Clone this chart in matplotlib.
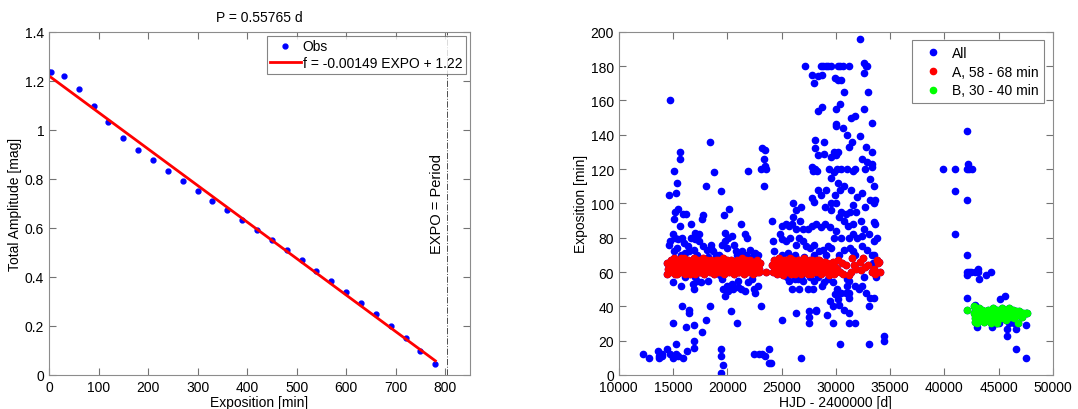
import matplotlib
matplotlib.use("Agg")
import matplotlib.pyplot as plt

plt.rcParams["font.family"] = ["Liberation Sans", "DejaVu Sans"]
plt.rcParams["font.size"] = 10

# left panel: amplitude vs exposure time
expo = [0, 4, 30, 60, 90, 120, 150, 180, 210, 240, 270, 300, 330, 360, 390,
        420, 450, 480, 510, 540, 570, 600, 630, 660, 690, 720, 750, 780]
amp = [1.238, 1.238, 1.218, 1.166, 1.099, 1.032, 0.968, 0.919, 0.876, 0.833,
       0.790, 0.750, 0.710, 0.671, 0.633, 0.591, 0.551, 0.508, 0.468, 0.424,
       0.382, 0.338, 0.293, 0.247, 0.199, 0.150, 0.099, 0.044]
slope, icpt = -0.00149, 1.22
period_d = 0.55765

# right panel: exposure time vs HJD, points outside groups A and B
other_hjd = [12200, 12800, 13600, 13700, 13700, 14000, 14000, 14400, 14700, 15000,
             15300, 15300, 15500, 15900, 16300, 15000, 15800, 16200, 16500, 16500,
             16900, 16900, 16900, 17700, 18000, 18400, 19400, 19400, 19400, 19600,
             20300, 20900, 22500, 22900, 23200, 23500, 23800, 23800, 24000, 23100,
             14700, 14600, 15100, 15400, 15300, 15600, 15600, 15100, 15200, 15500,
             15600, 15900, 16200, 16700, 17000, 17400, 17700, 17800, 18000, 18400,
             18800, 18500, 19400, 19700, 20200, 19800, 21300, 21900, 21800, 21600,
             22800, 23200, 23500, 23400, 23100, 23500, 23600, 23400,
             14700, 14600, 15000, 15200, 15500, 15800, 16000, 16400, 16700, 17000,
             17400, 17800, 18100, 18500, 18700, 19200, 19500, 19800, 20100, 20400,
             20600, 20800, 21400, 21700, 22100, 22600, 15100, 15400, 16100, 16900,
             17200, 15700, 16500, 18200, 19000, 20000, 20900, 22300,
             15000, 15700, 16100, 16800, 16900, 17200, 17600, 18200, 19500, 19600,
             19800, 20000, 20100, 20400, 20500, 21000, 21300, 21600, 21900, 22300,
             22500, 22600, 22800, 17000, 19300, 21000,
             24100, 25000, 26300, 26800, 27500, 27500, 27500, 28200, 28200, 29200,
             29700, 30400, 30300, 30800, 31200, 31200, 31800, 33100, 33100, 33200,
             33500, 34400, 34400, 29700, 30200, 29500, 31200, 31200, 27900, 26600,
             27400, 26000, 29900, 31000,
             27200, 27800, 28000, 28400, 28700, 28600, 28800, 29100, 29300, 29600,
             29900, 30200, 30200, 30400, 30700, 31200, 30500, 30800, 32200, 32600,
             32800, 32900, 32600, 33000, 28400, 28700, 30000, 30400, 31400, 31800,
             32200, 32600, 33300, 30000, 30000, 30700, 31000, 31200, 31500, 28100,
             28900, 28100, 32800, 33300, 32400, 32700, 32900, 33300, 33300, 29800,
             30200, 30000, 28400, 28900, 29600, 27800, 27900, 28100, 28300, 29400,
             29800, 30100, 30500, 31000, 31600, 31800, 29600, 30200, 30400, 29900,
             30800, 31400, 32000, 32400, 33200, 33500, 33200, 33600, 33500, 32700,
             31600, 31900, 30500, 30900, 31300, 29000, 29600, 30000, 27800, 28000,
             28400, 28600, 29100, 29600, 30300, 26100, 26300, 26800, 26100, 26700,
             25700, 25000, 25400, 26000, 26300, 27000, 27400, 27800, 28200, 28600,
             29000, 29500, 30000, 29800, 30500, 31200, 31600, 32000, 32400, 33100,
             33500, 33600, 33800, 33500, 32600, 32300, 31600, 31100, 30800, 24900,
             25000, 25400, 25800, 26300, 26600, 27000, 27300, 27600, 28000, 28500,
             28800, 29300, 29600, 30300, 30800, 31300, 31600, 32400, 32900, 33300,
             33500, 24200, 24300, 25000, 25600, 26200, 27100, 28000, 29100, 31800,
             33400,
             25500, 25700, 26200, 26500, 27000, 27600, 28000, 28400, 28900, 29300,
             29700, 30100, 30500, 31000, 31200, 31800, 32100, 32400, 32600, 33700,
             25200, 26800, 28700, 30900, 32800,
             39900, 41000, 41000, 41000, 42100, 42200, 42100, 42300, 42600, 42100,
             42100, 42100, 42100, 42300, 42500, 42800, 43100, 43100, 43200, 43800,
             44300, 42100, 42800, 43000, 44400, 44800, 45100, 45600, 45800, 45800,
             46400, 46600, 46600, 47500, 47500, 46000, 45000]
other_exp = [12, 10, 14, 11, 10, 12, 11, 15, 12, 10,
             12, 18, 11, 10, 14, 30, 40, 28, 38, 36,
             29, 20, 16, 25, 32, 40, 15, 11, 1, 6,
             37, 30, 12, 12, 12, 11, 15, 7, 7, 40,
             160, 105, 119, 112, 106, 130, 126, 91, 95, 97,
             87, 94, 94, 88, 83, 82, 91, 93, 110, 136,
             118, 76, 107, 93, 97, 83, 88, 119, 80, 82,
             70, 132, 131, 126, 120, 122, 120, 110,
             78, 76, 82, 80, 79, 80, 77, 75, 80, 79,
             78, 75, 73, 74, 72, 70, 76, 78, 80, 81,
             76, 72, 72, 70, 73, 71, 72, 74, 71, 73,
             70, 70, 72, 69, 70, 74, 70, 69,
             54, 52, 57, 53, 50, 55, 54, 55, 56, 50,
             46, 52, 49, 53, 50, 51, 50, 49, 54, 56,
             50, 48, 52, 57, 58, 55,
             90, 32, 36, 10, 30, 34, 37, 37, 38, 35,
             30, 18, 41, 38, 36, 30, 30, 18, 40, 45,
             45, 23, 20, 40, 44, 43, 45, 48, 50, 50,
             50, 50, 47, 52,
             180, 175, 170, 174, 175, 180, 180, 180, 180, 180,
             173, 180, 172, 180, 180, 180, 172, 165, 196, 182,
             180, 180, 176, 165, 154, 156, 155, 158, 150, 151,
             139, 155, 147, 146, 145, 144, 140, 133, 136, 137,
             136, 132, 133, 130, 126, 120, 124, 123, 121, 130,
             130, 128, 128, 129, 127, 121, 119, 120, 119, 120,
             118, 120, 120, 120, 119, 120, 115, 112, 108, 105,
             110, 108, 104, 106, 114, 110, 102, 102, 100, 98,
             99, 95, 95, 94, 95, 98, 100, 100, 103, 101,
             108, 105, 108, 96, 92, 100, 96, 98, 92, 90,
             87, 87, 88, 88, 85, 85, 85, 87, 88, 86,
             88, 86, 84, 80, 80, 80, 82, 80, 81, 82,
             89, 88, 80, 78, 85, 90, 88, 87, 90, 82,
             79, 78, 80, 76, 80, 78, 75, 74, 76, 72,
             73, 75, 74, 70, 73, 74, 72, 75, 73, 70,
             70, 78, 72, 70, 71, 70, 69, 70, 70, 70,
             65,
             57, 55, 56, 56, 55, 57, 55, 57, 54, 56,
             54, 50, 48, 56, 55, 52, 50, 52, 57, 57,
             58, 57, 52, 48, 48,
             120, 120, 107, 82, 142, 123, 120, 120, 120, 102,
             70, 60, 58, 60, 60, 60, 60, 62, 56, 58,
             60, 45, 41, 28, 28, 30, 44, 46, 27, 23,
             30, 15, 27, 10, 29, 30, 30]

# group A, 58 - 68 min
a_hjd = [14400, 14400, 14700, 14800, 14900, 15000, 15100, 15200, 15300, 15400,
         15500, 15600, 15700, 15800, 15900, 16000, 16100, 16200, 16300, 16400,
         16500, 16600, 16700, 16800, 16900, 17000, 17100, 17200, 17300, 17400,
         17500, 17600, 17700, 17800, 17900, 18000, 18100, 18200, 18300, 18400,
         18500, 18600, 18700, 18800, 18900, 19000, 19100, 19200, 19300, 19400,
         19500, 19600, 19700, 19800, 19900, 20000, 20100, 20200, 20300, 20400,
         20500, 20600, 20700, 20800, 20900, 21000, 21100, 21200, 21300, 21400,
         21500, 21600, 21700, 21800, 21900, 22000, 22100, 22200, 22300, 22400,
         22500, 22600, 22700, 22800, 22900, 23000, 23600,
         14550, 14750, 14950, 15150, 15350, 15550, 15750, 15950, 16150, 16350,
         16550, 16750, 16950, 17150, 17350, 17550, 17750, 17950, 18150, 18350,
         18550, 18750, 18950, 19150, 19350, 19550, 19750, 19950, 20150, 20350,
         20550, 20750, 20950, 21150, 21350, 21550, 21750, 21950, 22150, 22350,
         22550, 22750, 22950,
         24100, 24200, 24300, 24400, 24500, 24600, 24700, 24800, 24900, 25000,
         25100, 25200, 25300, 25400, 25500, 25600, 25700, 25800, 25900, 26000,
         26100, 26200, 26300, 26400, 26500, 26600, 26700, 26800, 26900, 27000,
         27100, 27200, 27300, 27400, 27500, 27600, 27700, 27800, 27900, 28000,
         28100, 28200, 28300, 28400, 28500, 28600, 28700, 28800, 28900, 29000,
         29100, 29200, 29300, 29400, 29500, 29600, 29700, 29800, 29900, 30000,
         24250, 24450, 24650, 24850, 25050, 25250, 25450, 25650, 25850, 26050,
         26250, 26450, 26650, 26850, 27050, 27250, 27450, 27650, 27850, 28050,
         28250, 28450, 28650, 28850, 29050, 29250, 29450, 29650, 29850,
         30200, 30400, 30600, 30900, 31200, 31400, 31500, 31700, 31900, 32200,
         32300, 32500, 32700, 33000, 33300, 33500, 33600, 33800, 33900, 34100,
         34000, 30100, 30700]
a_exp = [65, 59, 62, 67, 60, 64, 68, 61, 66, 59,
         63, 67, 60, 65, 62, 68, 59, 64, 61, 67,
         63, 60, 66, 62, 68, 59, 64, 61, 67, 63,
         60, 65, 62, 68, 59, 64, 61, 66, 63, 60,
         67, 62, 65, 59, 64, 61, 67, 63, 60, 66,
         62, 68, 59, 64, 61, 66, 63, 60, 67, 62,
         65, 59, 64, 61, 67, 63, 60, 66, 62, 68,
         59, 64, 61, 66, 63, 60, 67, 62, 65, 59,
         64, 61, 67, 63, 60, 65, 60,
         62, 66, 63, 59, 64, 61, 68, 64, 66, 65,
         59, 63, 65, 67, 60, 62, 66, 63, 67, 61,
         64, 62, 67, 60, 64, 65, 63, 67, 65, 61,
         63, 66, 60, 64, 65, 62, 67, 61, 64, 62,
         66, 60, 62,
         64, 60, 67, 62, 65, 59, 63, 68, 61, 66,
         58, 64, 62, 67, 60, 65, 63, 68, 59, 64,
         61, 66, 63, 60, 67, 62, 65, 59, 64, 61,
         68, 63, 60, 66, 62, 67, 59, 64, 61, 66,
         63, 60, 67, 62, 65, 59, 64, 61, 66, 63,
         60, 65, 62, 58, 64, 61, 66, 59, 63, 60,
         64, 66, 61, 64, 62, 67, 63, 61, 65, 67,
         59, 64, 67, 62, 65, 66, 59, 63, 67, 62,
         64, 67, 62, 64, 66, 60, 62, 65, 62,
         67, 60, 65, 64, 58, 60, 68, 64, 62, 66,
         61, 68, 63, 64, 60, 62, 59, 67, 65, 60,
         66, 62, 59]

# group B, 30 - 40 min
b_hjd = [42100, 42700, 42700, 42800, 42800, 42900, 42900, 43000, 43100, 43100,
         43200, 43300, 43300, 43400, 43500, 43500, 43600, 43700, 43800, 43900,
         44000, 44100, 44200, 44300, 44400, 44500, 44600, 44700, 44800, 44900,
         44900, 45000, 45100, 45200, 45300, 45400, 45500, 45600, 45700, 45800,
         45900, 46000, 46100, 46200, 46300, 46400, 46500, 46600, 46700, 46800,
         46900, 47000, 47100, 47200, 47300, 47500, 47600, 44300, 43000, 42800]
b_exp = [38, 40, 36, 33, 31, 38, 35, 30, 37, 34,
         39, 32, 36, 35, 38, 33, 36, 31, 37, 34,
         38, 35, 33, 37, 35, 39, 32, 36, 34, 38,
         30, 35, 37, 33, 39, 36, 34, 38, 32, 36,
         37, 39, 34, 36, 38, 33, 36, 37, 35, 30,
         37, 35, 36, 34, 36, 36, 36, 30, 39, 35]

all_hjd = other_hjd + a_hjd + b_hjd
all_exp = other_exp + a_exp + b_exp


def matlab_style(ax):
    for s in ax.spines.values():
        s.set_color("0.55")
    ax.tick_params(direction="in", top=True, right=True, length=5,
                   color="0.45", labelsize=10)


fig = plt.figure(figsize=(10.78, 4.10), dpi=100)
ax1 = fig.add_axes([0.0455, 0.083, 0.3905, 0.837])
ax2 = fig.add_axes([0.574, 0.083, 0.4026, 0.837])

ax1.plot(expo, amp, ".", color="blue", ms=7, label="Obs")
fx = [0, expo[-1]]
ax1.plot(fx, [slope * x + icpt for x in fx], "-", color="red", lw=2,
         label="f = -0.00149 EXPO + 1.22")
ax1.axvline(period_d * 1440, color="0.3", lw=0.7, ls="-.")
ax1.text(period_d * 1440 - 20, 0.70, "EXPO = Period", rotation=90,
         ha="center", va="center", fontsize=10.5)
ax1.set_xlim(0, 850)
ax1.set_ylim(0, 1.4)
ax1.set_xticks(range(0, 900, 100))
ax1.set_yticks([0, 0.2, 0.4, 0.6, 0.8, 1.0, 1.2, 1.4])
ax1.set_yticklabels(["0", "0.2", "0.4", "0.6", "0.8", "1", "1.2", "1.4"])
ax1.set_xlabel("Exposition [min]", labelpad=0.5)
ax1.set_ylabel("Total Amplitude [mag]", labelpad=2)
ax1.set_title("P = 0.55765 d", fontsize=10, pad=8)
leg1 = ax1.legend(loc="upper right", handlelength=2.2, handletextpad=0.15,
                  fancybox=False, borderaxespad=0.3, borderpad=0.25,
                  labelspacing=0.2, fontsize=10)
leg1.get_frame().set_edgecolor("0.4")
leg1.get_frame().set_linewidth(0.8)
matlab_style(ax1)

ax2.plot(all_hjd, all_exp, ".", color="blue", ms=9, label="All")
ax2.plot(a_hjd, a_exp, ".", color="red", ms=9, label="A, 58 - 68 min")
ax2.plot(b_hjd, b_exp, ".", color="#00ff00", ms=9, label="B, 30 - 40 min")
ax2.set_xlim(10000, 50000)
ax2.set_ylim(0, 200)
ax2.set_xticks(range(10000, 50001, 5000))
ax2.set_yticks(range(0, 201, 20))
ax2.set_xlabel("HJD - 2400000 [d]", labelpad=0.5)
ax2.set_ylabel("Exposition [min]", labelpad=2)
leg2 = ax2.legend(loc="upper right", handlelength=2.2, handletextpad=0.3,
                  fancybox=False, borderaxespad=0.6, borderpad=0.4,
                  labelspacing=0.35, fontsize=10)
leg2.get_frame().set_edgecolor("0.4")
leg2.get_frame().set_linewidth(0.8)
matlab_style(ax2)

fig.savefig("out.png", dpi=100)
